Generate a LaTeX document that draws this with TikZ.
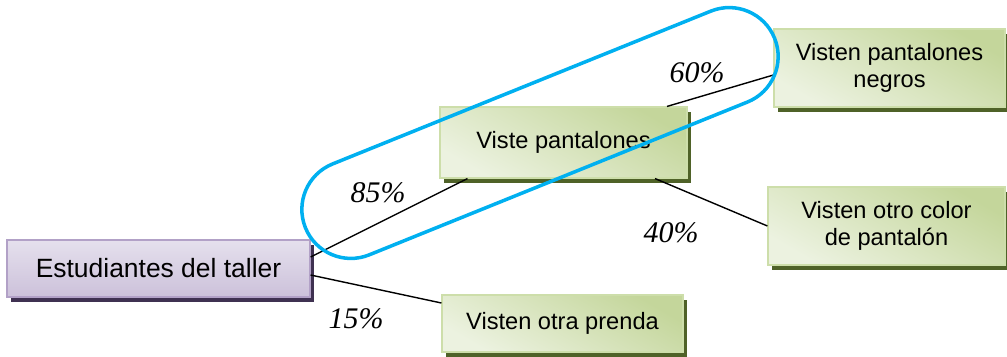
\documentclass[tikz,border=0pt]{standalone}
\usepackage{fontspec}
\setmainfont{Liberation Sans}
\newfontfamily\pctfont{Liberation Serif}
\usepackage{xcolor}
\usepackage{tikz}
\usetikzlibrary{shadows,shapes.misc}
\definecolor{gtop}{RGB}{196,214,155}
\definecolor{gbot}{RGB}{236,242,224}
\definecolor{gline}{RGB}{205,222,170}
\definecolor{gshadow}{RGB}{79,98,40}
\definecolor{ptop}{RGB}{229,224,237}
\definecolor{pbot}{RGB}{204,193,218}
\definecolor{pline}{RGB}{178,161,199}
\definecolor{pshadow}{RGB}{63,49,81}
\definecolor{resaltecolor}{RGB}{0,176,240}
\newlength\pxu
\setlength\pxu{0.025cm}

\begin{document}
\begin{tikzpicture}[
    x=0.025cm, y=-0.025cm,
    every node/.style={align=center,inner sep=0pt},
    box/.style={draw=gline,line width=0.8pt,top color=gtop,bottom color=gbot,
                shading angle=-30,font=\fontsize{16.8}{19.5}\selectfont,
                drop shadow={opacity=1,fill=gshadow,
                             shadow xshift=3.5\pxu,shadow yshift=-5\pxu}},
    rootbox/.style={box,draw=pline,top color=ptop,bottom color=pbot,
                    shading angle=0,font=\fontsize{18.8}{22}\selectfont,
                    drop shadow={opacity=1,fill=pshadow,
                                 shadow xshift=3.5\pxu,shadow yshift=-5\pxu}},
    pct/.style={font=\fontsize{21.3}{24}\pctfont\itshape},
    link/.style={draw=black,line width=1pt},
    resalte/.style={rounded rectangle,draw=resaltecolor,line width=2.5pt}
]
\useasboundingbox (0,0) rectangle (1007,356);

\node[rootbox,minimum width=303\pxu,minimum height=57\pxu] (est) at (158.5,268.5) {Estudiantes del taller};
\node[box,minimum width=247\pxu,minimum height=71\pxu] (vp) at (563.5,142.5) {Viste pantalones};
\node[box,minimum width=231\pxu,minimum height=78\pxu] (negros) at (889.5,68) {Visten pantalones\\negros};
\node[box,minimum width=237\pxu,minimum height=78\pxu] (otro) at (886.5,226) {Visten otro color\\de pantal\'on};
\node[box,minimum width=241\pxu,minimum height=57\pxu] (prenda) at (562.5,323.5) {Visten otra prenda};

\draw[link] ([yshift=11.5\pxu]est.east) -- ([xshift=-96\pxu]vp.south);
\draw[link] ([yshift=-6.5\pxu]est.east) -- ([yshift=20.5\pxu]prenda.west);
\draw[link] ([xshift=103.5\pxu]vp.north) -- ([yshift=-7\pxu]negros.west);
\draw[link] ([xshift=91.5\pxu]vp.south) -- (otro.west);

\node[pct] (p85) at (378,193) {85\%};
\node[pct] (p60) at (697,73) {60\%};
\node[pct] (p40) at (671,233) {40\%};
\node[pct] (p15) at (356,319) {15\%};

% rama destacada
\node[resalte,minimum width=506\pxu,minimum height=98\pxu,rotate=22] (grupo) at (540,133) {};
\end{tikzpicture}
\end{document}
